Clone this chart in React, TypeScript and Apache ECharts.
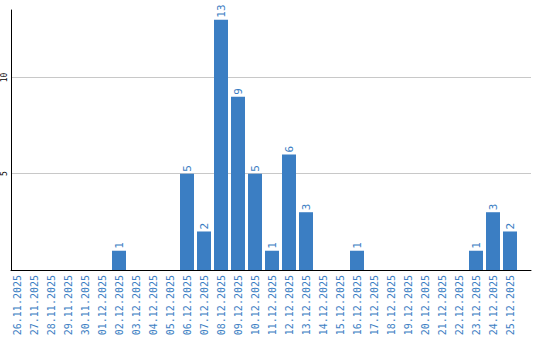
import React, { useEffect, useRef } from "react";
import * as echarts from "echarts";

const categories: string[] = [
  "26.11.2025", "27.11.2025", "28.11.2025", "29.11.2025", "30.11.2025",
  "01.12.2025", "02.12.2025", "03.12.2025", "04.12.2025", "05.12.2025",
  "06.12.2025", "07.12.2025", "08.12.2025", "09.12.2025", "10.12.2025",
  "11.12.2025", "12.12.2025", "13.12.2025", "14.12.2025", "15.12.2025",
  "16.12.2025", "17.12.2025", "18.12.2025", "19.12.2025", "20.12.2025",
  "21.12.2025", "22.12.2025", "23.12.2025", "24.12.2025", "25.12.2025",
];

const counts: number[] = [
  0, 0, 0, 0, 0, 0, 1, 0, 0, 0,
  5, 2, 13, 9, 5, 1, 6, 3, 0, 0,
  1, 0, 0, 0, 0, 0, 0, 1, 3, 2,
];

const yTickLabels: number[] = [5, 10];

const BLUE = "#3b7ec3";
const MONO = "DejaVu Sans Mono";

export default function App() {
  const ref = useRef<HTMLDivElement>(null);
  useEffect(() => {
    if (!ref.current) return;
    const chart = echarts.init(ref.current, null, { renderer: "svg" });
    chart.setOption({
      animation: false,
      grid: [
        { left: 10, right: 9, top: 10, bottom: 70, containLabel: false },
        { left: 8.5, right: 21.5, top: 10, bottom: 70, containLabel: false },
      ],
      xAxis: [
        {
          gridIndex: 0,
          type: "value",
          min: 0,
          max: 1,
          axisLine: { show: true, onZero: false, lineStyle: { color: "#000", width: 1 } },
          axisTick: { show: false },
          axisLabel: { show: false },
          splitLine: { show: false },
        },
        {
          gridIndex: 1,
          type: "category",
          data: categories,
          axisLine: { show: false },
          axisTick: { show: false },
          axisLabel: {
            rotate: 90,
            interval: 0,
            color: BLUE,
            fontFamily: MONO,
            fontSize: 10,
            margin: 5,
          },
        },
      ],
      yAxis: [
        {
          gridIndex: 0,
          type: "value",
          min: 0,
          max: 13.5,
          interval: 5,
          axisLine: { show: true, lineStyle: { color: "#000", width: 1 } },
          axisTick: { show: false },
          splitLine: {
            show: true,
            showMinLine: false,
            showMaxLine: false,
            lineStyle: { color: "#c8c8c8", width: 1 },
          },
          axisLabel: {
            rotate: 90,
            color: "#000",
            fontFamily: MONO,
            fontSize: 8,
            margin: 3,
            formatter: (v: number) => (yTickLabels.includes(v) ? String(v) : ""),
          },
        },
        {
          gridIndex: 1,
          type: "value",
          min: 0,
          max: 13.5,
          show: false,
        },
      ],
      series: [
        {
          type: "bar",
          xAxisIndex: 1,
          yAxisIndex: 1,
          data: counts,
          barWidth: 14,
          itemStyle: { color: BLUE },
          label: {
            show: true,
            position: "top",
            rotate: 90,
            align: "left",
            verticalAlign: "middle",
            distance: 2,
            color: BLUE,
            fontFamily: MONO,
            fontSize: 11,
            formatter: (p: any) => (p.value ? String(p.value) : ""),
          },
        },
      ],
    });
    return () => chart.dispose();
  }, []);
  return <div ref={ref} style={{ width: 540, height: 340, position: "absolute", left: 0, top: 0 }} />;
}
